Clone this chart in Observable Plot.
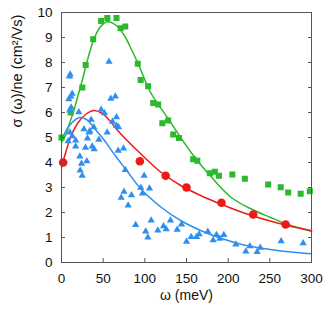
<!DOCTYPE html>
<html><head><meta charset="utf-8">
<script src="https://cdn.jsdelivr.net/npm/d3@7"></script>
<script src="https://cdn.jsdelivr.net/npm/@observablehq/plot@0.6"></script>
<style>body{margin:0;background:#fff}</style>
</head><body><div id="chart"></div>
<script>
// Tick values
const xTicks = [0, 50, 100, 150, 200, 250, 300];
const yTicks = [0, 1, 2, 3, 4, 5, 6, 7, 8, 9, 10];

// Green squares (omega meV, sigma/ne)
const greenW = [0, 11, 25, 29, 38, 47.5, 55, 66, 71, 76.5, 91.5, 95, 104, 110, 116, 121, 128, 134, 141, 158, 163, 178, 184, 189, 205, 220, 248, 263, 272, 287, 298];
const greenS = [5.0, 6.0, 7.0, 7.9, 8.93, 9.66, 9.78, 9.78, 9.37, 9.44, 7.95, 7.3, 7.05, 6.38, 6.32, 5.57, 5.68, 5.12, 4.98, 4.13, 4.07, 3.57, 3.63, 3.47, 3.52, 3.35, 3.12, 3.01, 2.8, 2.75, 2.85];

// Red circles
const redW = [2, 94, 125, 150, 192, 230, 269];
const redS = [4.0, 4.05, 3.47, 3.0, 2.39, 1.92, 1.52];

// Blue triangles
const blueW = [8, 10, 13, 9.6, 10.4, 8.8, 11.2, 12.8, 11.6, 9.9, 17, 17, 20.8, 22, 24, 22.4, 24.8, 27, 30.4, 28.8, 31.2, 33, 34, 35.6, 36.8, 39.2, 38.8, 44.8, 47.6, 51.6, 54.8, 57, 59.2, 64.6, 61.2, 66, 66, 68.4, 68, 74.4, 76.6, 71.6, 75, 80, 84, 89, 95.2, 97.2, 99.2, 105.6, 101, 103.6, 107.6, 115.6, 122.4, 125.6, 130.8, 138.8, 144, 150, 155.6, 162, 165.2, 175.6, 182, 186, 190, 194.8, 209.2, 221.2, 226, 234.8, 238.5, 263.6, 290];
const blueS = [4.85, 5.2, 5.05, 7.44, 7.52, 6.53, 6.64, 6.75, 6.2, 6.08, 4.88, 4.64, 6.01, 4.24, 3.95, 3.68, 3.47, 5.33, 4.05, 4.59, 4.96, 5.2, 5.25, 5.71, 4.64, 4.53, 5.41, 4.91, 6.11, 5.97, 5.2, 8.03, 6.55, 6.64, 5.63, 5.81, 5.47, 5.41, 4.47, 4.56, 3.7, 2.59, 2.83, 2.28, 2.69, 1.5, 2.99, 2.76, 3.47, 2.96, 1.24, 1.0, 1.68, 1.28, 1.45, 1.33, 1.68, 1.31, 1.52, 0.83, 1.02, 1.02, 1.13, 1.23, 0.89, 1.1, 0.95, 1.1, 0.72, 0.44, 0.65, 0.42, 0.59, 0.85, 0.77];

// Fit curves
const greenFitW = [0, 5, 10, 15, 20, 25, 30, 38, 46, 55, 65, 75, 85, 92, 107, 127, 143, 160, 179, 203, 227, 251, 269, 300];
const greenFitS = [4.8, 5.1, 5.6, 6.1, 6.7, 7.3, 7.95, 8.85, 9.4, 9.63, 9.5, 9.1, 8.45, 7.95, 6.8, 5.8, 5.0, 4.2, 3.45, 2.62, 2.15, 1.8, 1.55, 1.25];
const redFitW = [0, 5, 12, 20, 30, 39, 48, 55, 71, 95, 119, 143, 167, 190, 219, 259, 300];
const redFitS = [3.8, 4.4, 5.1, 5.6, 5.95, 6.08, 5.98, 5.78, 5.15, 4.35, 3.62, 3.08, 2.68, 2.35, 1.98, 1.58, 1.27];
const blueFitW = [0, 10, 22, 30, 40, 50, 65, 80, 95, 120, 143, 167, 187, 219, 259, 300];
const blueFitS = [4.9, 5.5, 5.8, 5.72, 5.35, 4.95, 4.25, 3.6, 2.95, 2.2, 1.68, 1.28, 1.02, 0.7, 0.48, 0.35];

const GREEN = "#2cb92c", RED = "#ee1a1a", BLUE = "#2f8ff0";
const zip = (a, b) => a.map((w, i) => ({w, s: b[i]}));

const chart = Plot.plot({
  width: 327, height: 320,
  marginLeft: 61, marginRight: 16, marginTop: 12, marginBottom: 58,
  style: {fontFamily: "'Liberation Sans', Arial, sans-serif", fontSize: "13.5px", color: "#111", background: "#fff"},
  x: {domain: [0, 300]},
  y: {domain: [0, 10]},
  marks: [
    Plot.line(zip(greenFitW, greenFitS), {x: "w", y: "s", stroke: GREEN, strokeWidth: 1.5, curve: "catmull-rom"}),
    Plot.line(zip(redFitW, redFitS), {x: "w", y: "s", stroke: RED, strokeWidth: 1.5, curve: "catmull-rom"}),
    Plot.line(zip(blueFitW, blueFitS), {x: "w", y: "s", stroke: BLUE, strokeWidth: 1.5, curve: "catmull-rom"}),
    Plot.dot(zip(greenW, greenS), {x: "w", y: "s", symbol: "square", r: 3.4, fill: GREEN}),
    Plot.dot(zip(redW, redS), {x: "w", y: "s", symbol: "circle", r: 4.3, fill: RED}),
    Plot.dot(zip(blueW, blueS), {x: "w", y: "s", symbol: "triangle", r: 2.7, fill: BLUE}),
    Plot.frame({stroke: "#555"}),
    Plot.axisX({ticks: xTicks, tickSize: -4, tickPadding: 15, stroke: "#555", label: null}),
    Plot.axisY({ticks: yTicks, tickSize: -4, tickPadding: 13, stroke: "#555", label: null}),
    Plot.axisY({anchor: "right", ticks: yTicks, tickSize: -4, tickFormat: () => "", stroke: "#555", label: null}),
    Plot.text(["ω (meV)"], {frameAnchor: "bottom", dy: 37, text: d => d, fontSize: 14, fill: "#111"}),
    Plot.text(["σ (ω)/ne (cm²/Vs)"], {frameAnchor: "left", dx: -44, dy: -10, rotate: -90, text: d => d, fontSize: 14.5, fill: "#111"})
  ]
});
document.getElementById("chart").appendChild(chart);
</script>
</body></html>
